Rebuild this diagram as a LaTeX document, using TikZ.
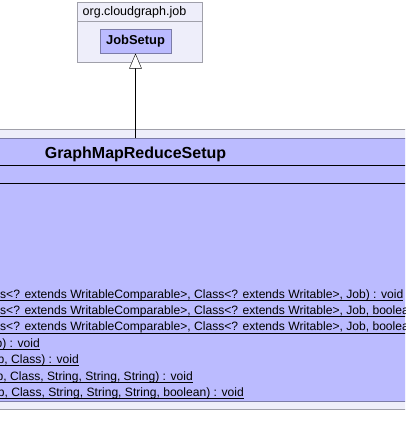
\documentclass[tikz,border=0pt]{standalone}
\usepackage{fontspec}
\setmainfont{Liberation Sans}
\usetikzlibrary{arrows.meta, positioning}

\definecolor{pkgfill}{HTML}{EEEEFA}
\definecolor{pkgline}{HTML}{A0A0AA}
\definecolor{classfill}{HTML}{BBBBFF}
\definecolor{classline}{HTML}{7C7CA8}

\begin{document}
\begin{tikzpicture}[
  x=1pt, y=-1pt,
  pkgbox/.style={
    draw=pkgline,
    fill=pkgfill,
    inner sep=0pt,
    anchor=north west
  },
  classbox/.style={
    draw=classline,
    fill=classfill,
    inner sep=0pt
  },
  member/.style={font=\fontsize{12.1}{14}\selectfont, inner sep=0pt},
  inherit/.style={-{Triangle[length=15pt, width=12.5pt, fill=white]}, thin}
]

\useasboundingbox (0,0) rectangle (405,447);
\clip (0,0) rectangle (405,447);

% ------------------------------------------------------------
% Package org.cloudgraph.job
% ------------------------------------------------------------

\node[pkgbox, minimum width=124.5pt, minimum height=59.5pt] (jobpkg) at (77,2) {};
\draw[pkgline] (77,21) -- (201.5,21);
\node[font=\fontsize{12.5}{14}\selectfont, anchor=base west, inner sep=0pt]
  (jobpkglabel) at (82.5,16) {org.cloudgraph.job};

\node[classbox, minimum width=71pt, minimum height=24pt,
  font=\bfseries\fontsize{12.9}{14}\selectfont] (jobsetup) at (135.5,41.3) {JobSetup};

% ------------------------------------------------------------
% Package and class GraphMapReduceSetup
% ------------------------------------------------------------

\node[pkgbox, minimum width=415pt, minimum height=280pt] (setuppkg) at (-5,129) {};
\node[classbox, anchor=north west, minimum width=415pt, minimum height=263pt]
  (gmrsetup) at (-5,138) {};

\node[font=\bfseries\fontsize{16}{18}\selectfont, anchor=base, inner sep=0pt]
  (gmrname) at (135.5,158) {GraphMapReduceSetup};

\draw (-5,165) -- (410,165);
\draw (-5,183) -- (410,183);

% ------------------------------------------------------------
% Methods (static, underlined)
% ------------------------------------------------------------

\node[member, anchor=base west] (m1) at (0,298)
  {s<? extends WritableComparable>, Class<? extends Writable>, Job) : void};
\node[member, anchor=base west] (m2) at (0,314.4)
  {s<? extends WritableComparable>, Class<? extends Writable>, Job, boolean) : void};
\node[member, anchor=base west] (m3) at (0,330.8)
  {s<? extends WritableComparable>, Class<? extends Writable>, Job, boolean) : void};
\node[member, anchor=base east] (m4) at (40,347.2) {b) : void};
\node[member, anchor=base east] (m5) at (79,363.6) {b, Class) : void};
\node[member, anchor=base east] (m6) at (193,380) {b, Class, String, String, String) : void};
\node[member, anchor=base east] (m7) at (244,396.4) {b, Class, String, String, String, boolean) : void};

\foreach \m in {m1,m2,m3,m4,m5,m6,m7}
  \draw ([yshift=-2pt]\m.base west) -- ([yshift=-2pt]\m.base east);

% ------------------------------------------------------------
% Generalisation
% ------------------------------------------------------------

\draw[inherit] (gmrsetup.north -| jobsetup.south) -- (jobsetup.south);

\end{tikzpicture}
\end{document}
